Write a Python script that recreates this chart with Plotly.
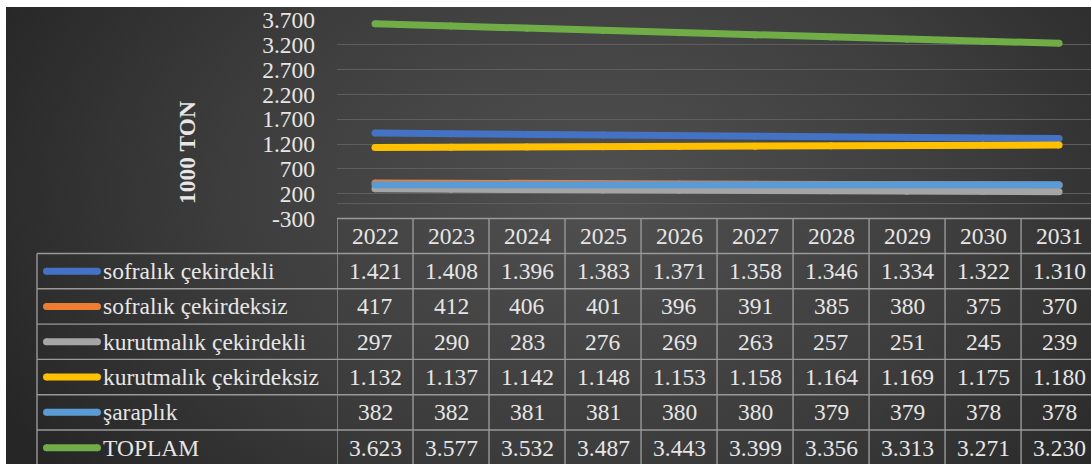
import base64
import plotly.graph_objects as go

W, H = 1091, 464

years = ["2022", "2023", "2024", "2025", "2026", "2027", "2028", "2029", "2030", "2031"]
series_names = ["sofralık çekirdekli", "sofralık çekirdeksiz", "kurutmalık çekirdekli",
                "kurutmalık çekirdeksiz", "şaraplık", "TOPLAM"]
sofralik_cekirdekli = [1421, 1408, 1396, 1383, 1371, 1358, 1346, 1334, 1322, 1310]
sofralik_cekirdeksiz = [417, 412, 406, 401, 396, 391, 385, 380, 375, 370]
kurutmalik_cekirdekli = [297, 290, 283, 276, 269, 263, 257, 251, 245, 239]
kurutmalik_cekirdeksiz = [1132, 1137, 1142, 1148, 1153, 1158, 1164, 1169, 1175, 1180]
saraplik = [382, 382, 381, 381, 380, 380, 379, 379, 378, 378]
toplam = [3623, 3577, 3532, 3487, 3443, 3399, 3356, 3313, 3271, 3230]
series_values = [sofralik_cekirdekli, sofralik_cekirdeksiz, kurutmalik_cekirdekli,
                 kurutmalik_cekirdeksiz, saraplik, toplam]
series_colors = ["#4472C4", "#ED7D31", "#A5A5A5", "#FFC000", "#5B9BD5", "#70AD47"]
y_ticks = [-300, 200, 700, 1200, 1700, 2200, 2700, 3200, 3700]
y_title = "1000 TON"

TXT = "#e6e6e6"
FONT = "Liberation Serif, Times New Roman, serif"
FS = 23.5
LINE = "#999999"


def fmt(v):
    return f"{v:,}".replace(",", ".")


def px(x):
    return x / W


def py(y):
    return 1 - y / H


# plot geometry (pixels)
X0 = 337
Y_TOP, Y_BOT = 20, 218.5
ROW_TOP = 253.5
ROW_H = 35.3
LEG_X0 = 37
LW = 7

fig = go.Figure()
xs = list(range(len(years)))
for name, vals, col in zip(series_names, series_values, series_colors):
    fig.add_trace(go.Scatter(
        x=xs, y=vals, name=name, mode="lines+markers",
        line=dict(color=col, width=LW),
        marker=dict(color=col, size=LW, line=dict(width=0)),
        showlegend=False, hoverinfo="skip"))

# background gradient
svg = f'''<svg xmlns="http://www.w3.org/2000/svg" width="{W}" height="{H}" viewBox="0 0 {W} {H}" preserveAspectRatio="none">
<defs><radialGradient id="g" cx="0.55" cy="0.42" r="0.62" gradientTransform="translate(0.55 0.42) scale(1 1.6) translate(-0.55 -0.42)">
<stop offset="0" stop-color="#505050"/><stop offset="0.55" stop-color="#3d3d3d"/><stop offset="1" stop-color="#262626"/></radialGradient></defs>
<rect width="{W}" height="{H}" fill="url(#g)"/></svg>'''
src = "data:image/svg+xml;base64," + base64.b64encode(svg.encode()).decode()

shapes = []
annotations = []


def ann(**kw):
    kw.setdefault("xanchor", "center")
    kw.setdefault("yanchor", "middle")
    kw.setdefault("showarrow", False)
    kw.setdefault("font", dict(family=FONT, size=FS, color=TXT))
    annotations.append(kw)


# y-axis title
ann(x=px(187), y=py(153), xref="paper", yref="paper", text=f"<b>{y_title}</b>", textangle=-90)

# table lines
n = len(years)
y_end = H + 2
lstyle = dict(color=LINE, width=1.4)
shapes.append(dict(type="line", xref="x", yref="paper", x0=-0.5, x1=n - 0.5,
                   y0=py(Y_BOT), y1=py(Y_BOT), line=lstyle))
for i in range(n + 1):
    shapes.append(dict(type="line", xref="x", yref="paper", x0=i - 0.5, x1=i - 0.5,
                       y0=py(Y_BOT), y1=py(y_end), line=lstyle))
for r in range(len(series_names) + 1):
    yy = ROW_TOP + r * ROW_H
    shapes.append(dict(type="line", xref="paper", yref="paper", x0=px(LEG_X0), x1=1.0,
                       y0=py(yy), y1=py(yy), line=lstyle))
shapes.append(dict(type="line", xref="paper", yref="paper", x0=px(LEG_X0), x1=px(LEG_X0),
                   y0=py(ROW_TOP), y1=py(y_end), line=lstyle))

# header labels
for i, yr in enumerate(years):
    ann(x=i, y=py((Y_BOT + ROW_TOP) / 2), xref="x", yref="paper", text=yr)
# rows
r_cap = LW / 2
for r, (name, vals, col) in enumerate(zip(series_names, series_values, series_colors)):
    yc = ROW_TOP + (r + 0.5) * ROW_H
    shapes.append(dict(type="line", xref="paper", yref="paper", x0=px(46.5), x1=px(97.5),
                       y0=py(yc), y1=py(yc), line=dict(color=col, width=LW)))
    for cx in (46.5, 97.5):
        shapes.append(dict(type="circle", xref="paper", yref="paper", x0=px(cx - r_cap), x1=px(cx + r_cap),
                           y0=py(yc - r_cap), y1=py(yc + r_cap), fillcolor=col, line=dict(width=0)))
    ann(x=px(101), y=py(yc), xref="paper", yref="paper", text=name, xanchor="left")
    for i, v in enumerate(vals):
        ann(x=i, y=py(yc), xref="x", yref="paper", text=fmt(v))

# white outer strips
shapes.append(dict(type="rect", xref="paper", yref="paper", x0=0, x1=1, y0=py(7), y1=1,
                   fillcolor="white", line=dict(width=0), layer="above"))
shapes.append(dict(type="rect", xref="paper", yref="paper", x0=0, x1=px(6), y0=0, y1=1,
                   fillcolor="white", line=dict(width=0), layer="above"))

fig.update_layout(
    width=W, height=H, margin=dict(l=0, r=0, t=0, b=0, autoexpand=False),
    paper_bgcolor="#333333", plot_bgcolor="rgba(0,0,0,0)",
    images=[dict(source=src, xref="paper", yref="paper", x=0, y=1, sizex=1, sizey=1,
                 sizing="stretch", layer="below", xanchor="left", yanchor="top")],
    xaxis=dict(domain=[px(X0), 1], range=[-0.5, 9.42], showticklabels=False, showgrid=False,
               zeroline=False, showline=False, fixedrange=True, automargin=False),
    yaxis=dict(domain=[py(Y_BOT), py(Y_TOP)], range=[-300, 3700], tickvals=y_ticks,
               ticktext=[fmt(v) for v in y_ticks], tickfont=dict(family=FONT, size=FS, color=TXT),
               ticklabelstandoff=21, showgrid=True, gridcolor="#5e5e5e", gridwidth=1.3,
               zeroline=True, zerolinecolor="#5e5e5e", zerolinewidth=1.3, showline=False,
               fixedrange=True, automargin=False),
    shapes=shapes, annotations=annotations, showlegend=False,
)

fig.write_html("out.html", config={"displayModeBar": False})
